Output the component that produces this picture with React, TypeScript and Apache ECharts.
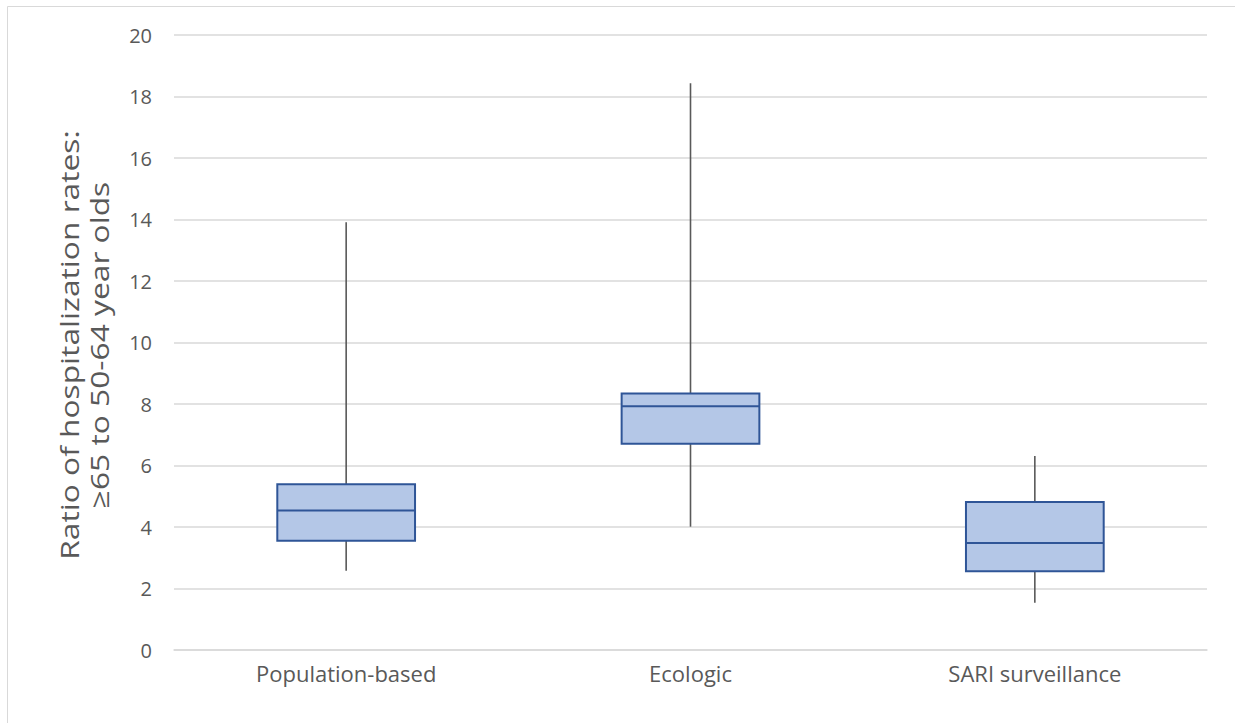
import React, { useEffect, useRef } from "react";
import * as echarts from "echarts";

const categories = ["Population-based", "Ecologic", "SARI surveillance"];
const lowWhisker = [2.58, 4.01, 1.54];
const q1 = [3.55, 6.71, 2.56];
const median = [4.54, 7.93, 3.48];
const q3 = [5.39, 8.34, 4.81];
const highWhisker = [13.91, 18.43, 6.31];
const yTicks = { min: 0, max: 20, interval: 2 };
const yTitle = "Ratio of hospitalization rates:\n≥65 to 50-64 year olds";

const FONT = "'Open Sans', sans-serif";

export default function App() {
  const ref = useRef<HTMLDivElement>(null);
  useEffect(() => {
    const chart = echarts.init(ref.current!, null, { renderer: "svg" });
    const data = categories.map((_, i) => [i, lowWhisker[i], q1[i], median[i], q3[i], highWhisker[i]]);
    chart.setOption({
      animation: false,
      textStyle: { fontFamily: FONT },
      grid: { left: 174, right: 28, top: 35, bottom: 73, containLabel: false },
      graphic: [
        {
          type: "rect",
          shape: { x: 7.5, y: 6.5, width: 1240, height: 730 },
          style: { fill: "none", stroke: "#D9D9D9", lineWidth: 1 },
          silent: true,
          z: -10,
        },
        {
          type: "text",
          x: 84,
          y: 345,
          rotation: Math.PI / 2,
          scaleX: 1.22,
          style: {
            text: yTitle,
            fontSize: 26,
            fontFamily: FONT,
            fill: "#595959",
            align: "center",
            verticalAlign: "middle",
            lineHeight: 30,
          },
        },
      ],
      xAxis: {
        type: "category",
        data: categories,
        axisLine: { show: true, lineStyle: { color: "#D9D9D9", width: 1.5 } },
        axisTick: { show: false },
        axisLabel: { color: "#595959", fontSize: 22, margin: 12, fontFamily: FONT },
        splitLine: { show: false },
      },
      yAxis: {
        type: "value",
        min: yTicks.min,
        max: yTicks.max,
        interval: yTicks.interval,
        axisLine: { show: false },
        axisTick: { show: false },
        axisLabel: { color: "#595959", fontSize: 20, margin: 22, fontFamily: FONT },
        splitLine: { lineStyle: { color: "#D9D9D9", width: 1.5 } },
      },
      series: [
        {
          type: "custom",
          data,
          encode: { x: 0, y: [1, 2, 3, 4, 5] },
          renderItem: (params: any, api: any) => {
            const x = api.value(0);
            const lo = api.coord([x, api.value(1)]);
            const b1 = api.coord([x, api.value(2)]);
            const md = api.coord([x, api.value(3)]);
            const b3 = api.coord([x, api.value(4)]);
            const hi = api.coord([x, api.value(5)]);
            const w = api.size([1, 0])[0] * 0.4;
            const cx = lo[0];
            const whiskerStyle = { stroke: "#595959", lineWidth: 1.6 };
            return {
              type: "group",
              children: [
                { type: "line", shape: { x1: cx, y1: hi[1], x2: cx, y2: b3[1] }, style: whiskerStyle },
                { type: "line", shape: { x1: cx, y1: b1[1], x2: cx, y2: lo[1] }, style: whiskerStyle },
                {
                  type: "rect",
                  shape: { x: cx - w / 2, y: b3[1], width: w, height: b1[1] - b3[1] },
                  style: { fill: "#B4C7E7", stroke: "#2F5597", lineWidth: 2 },
                },
                {
                  type: "line",
                  shape: { x1: cx - w / 2, y1: md[1], x2: cx + w / 2, y2: md[1] },
                  style: { stroke: "#2F5597", lineWidth: 2 },
                },
              ],
            };
          },
        },
      ],
    });
    return () => chart.dispose();
  }, []);
  return <div ref={ref} style={{ width: 1235, height: 723, position: "absolute", left: 0, top: 0 }} />;
}
